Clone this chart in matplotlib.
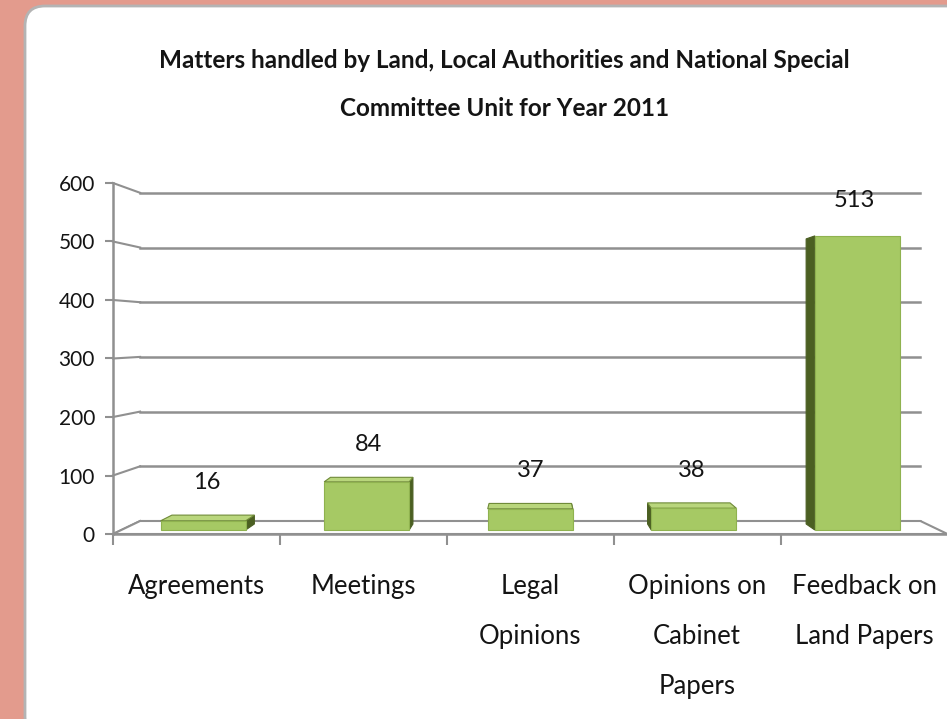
import matplotlib
matplotlib.use("Agg")
import matplotlib.pyplot as plt
from matplotlib.patches import FancyBboxPatch, Polygon

plt.rcParams['font.family'] = ['Lato', 'DejaVu Sans']

# data
categories = ["Agreements", "Meetings", "Legal\nOpinions",
              "Opinions on\nCabinet\nPapers", "Feedback on\nLand Papers"]
counts = [16, 84, 37, 38, 513]
yticks = [0, 100, 200, 300, 400, 500, 600]
title = "Matters handled by Land, Local Authorities and National Special\nCommittee Unit for Year 2011"

# colours
salmon = "#e39b8d"
green = "#a6c964"
green_top = "#b9d67c"
green_side = "#4b5f22"
grid_c = "#909090"
text_c = "#141414"

# perspective: everything shrinks toward a vanishing point as depth grows
VP_X, VP_V = 2.0, 342.0
S_BACK = 0.935      # back wall
S_FRONT_BAR = 0.98  # front face of the bars
S_BACK_BAR = 0.95   # back face of the bars
HW = 0.26           # half bar width


def proj(x, v, s):
    return VP_X + (x - VP_X) * s, VP_V + (v - VP_V) * s


fig = plt.figure(figsize=(9.47, 7.19), dpi=100)
fig.patch.set_facecolor(salmon)

# white rounded panel
bg = fig.add_axes([0, 0, 1, 1], zorder=0)
bg.set_xlim(0, 947)
bg.set_ylim(719, 0)
bg.axis("off")
bg.add_patch(FancyBboxPatch((25, 6), 960, 730, boxstyle="round,pad=0,rounding_size=20",
                            facecolor="white", edgecolor="#b4b4b4", linewidth=2))

fig.text(0.533, 0.882, title, ha="center", va="center", fontsize=17.5,
         fontweight="bold", color=text_c, linespacing=2.3)

ax = fig.add_axes([113 / 947, (719 - 534) / 719, 834.5 / 947, 351 / 719], zorder=1)
ax.patch.set_visible(False)
ax.set_xlim(-0.5, 4.5)
ax.set_ylim(0, 600)
for side in ["top", "right"]:
    ax.spines[side].set_visible(False)
for side in ["left", "bottom"]:
    ax.spines[side].set_color(grid_c)
    ax.spines[side].set_linewidth(1.8)

# back wall gridlines and the slanted links on the side wall
for v in yticks:
    x0, y0 = proj(-0.5, v, S_BACK)
    x1, y1 = proj(4.5, v, S_BACK)
    ax.plot([x0, x1], [y0, y1], color=grid_c, lw=1.8, clip_on=False, zorder=1)
    fx, fy = proj(-0.5, v, 1.0)
    ax.plot([fx, x0], [fy, y0], color=grid_c, lw=1.5, clip_on=False, zorder=1)

# floor
floor = [proj(-0.5, 0, 1.0), proj(4.5, 0, 1.0), proj(4.5, 0, S_BACK), proj(-0.5, 0, S_BACK)]
ax.add_patch(Polygon(floor, closed=True, facecolor="white", edgecolor=grid_c,
                     lw=1.5, clip_on=False, zorder=2))

# bars
for i, v in enumerate(counts):
    lf, rf = i - HW, i + HW
    if i > VP_X:
        side = [proj(lf, 0, S_FRONT_BAR), proj(lf, v, S_FRONT_BAR),
                proj(lf, v, S_BACK_BAR), proj(lf, 0, S_BACK_BAR)]
    else:
        side = [proj(rf, 0, S_FRONT_BAR), proj(rf, v, S_FRONT_BAR),
                proj(rf, v, S_BACK_BAR), proj(rf, 0, S_BACK_BAR)]
    ax.add_patch(Polygon(side, closed=True, facecolor=green_side, edgecolor=green_side,
                         lw=0.8, clip_on=False, zorder=3))
    if v < VP_V:
        top = [proj(lf, v, S_FRONT_BAR), proj(rf, v, S_FRONT_BAR),
               proj(rf, v, S_BACK_BAR), proj(lf, v, S_BACK_BAR)]
        ax.add_patch(Polygon(top, closed=True, facecolor=green_top, edgecolor="#6f8a38",
                             lw=0.8, clip_on=False, zorder=4))
    front = [proj(lf, 0, S_FRONT_BAR), proj(rf, 0, S_FRONT_BAR),
             proj(rf, v, S_FRONT_BAR), proj(lf, v, S_FRONT_BAR)]
    ax.add_patch(Polygon(front, closed=True, facecolor=green, edgecolor="#8fb24f",
                         lw=0.8, clip_on=False, zorder=5))
    lx, ly = proj(i, v + 64, 0.97)
    ax.text(lx, ly, str(v), ha="center", va="center", fontsize=17, color=text_c,
            zorder=6, clip_on=False)

ax.set_yticks(yticks)
ax.tick_params(axis="y", length=6, width=1.5, color=grid_c, labelsize=15,
               labelcolor=text_c, pad=7)
ax.set_xticks(range(len(categories)))
ax.set_xticklabels(categories, fontsize=18.5, color=text_c, linespacing=2.25)
ax.set_xticks([-0.5, 0.5, 1.5, 2.5, 3.5], minor=True)
ax.tick_params(axis="x", which="major", length=0, pad=29)
ax.tick_params(axis="x", which="minor", length=8, width=1.5, color=grid_c)

fig.savefig("out.png", dpi=100, facecolor=fig.get_facecolor())
